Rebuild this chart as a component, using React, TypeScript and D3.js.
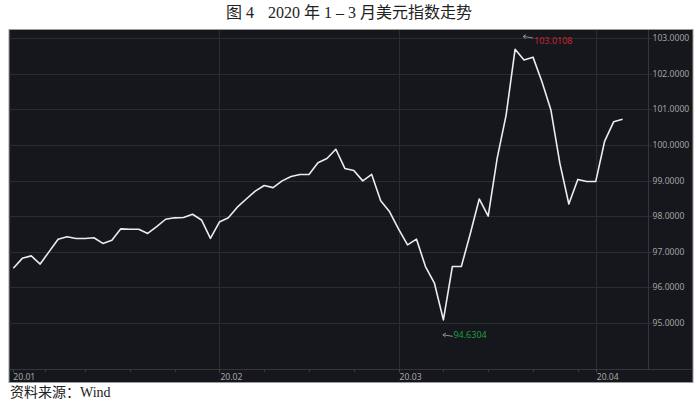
import React from "react";
import * as d3 from "d3";

// US Dollar Index, daily, Jan–early Apr 2020 (trading-day index)
const valuesJan = [96.53, 96.81, 96.88, 96.65, 97.0, 97.35, 97.42, 97.37, 97.37, 97.39, 97.23, 97.32, 97.64, 97.63, 97.63, 97.51, 97.7, 97.91, 97.95, 97.96, 98.05, 97.89, 97.37];
const valuesFeb = [97.83, 97.95, 98.25, 98.48, 98.7, 98.86, 98.8, 98.99, 99.11, 99.17, 99.17, 99.5, 99.62, 99.88, 99.34, 99.28, 98.99, 99.17, 98.43, 98.12];
const valuesMar = [97.63, 97.19, 97.35, 96.58, 96.11, 95.08, 96.58, 96.58, 97.5, 98.48, 98.0, 99.62, 100.84, 102.69, 102.39, 102.47, 101.78, 100.98, 99.48, 98.34, 99.03, 98.97];
const valuesApr = [98.97, 100.11, 100.65, 100.72];

const monthTickIndex = [0, 23, 43, 65];
const monthTickLabels = ["20.01", "20.02", "20.03", "20.04"];
const minorTickIndex = [3.5, 8, 13, 18, 28, 33, 38, 48, 53, 58, 63];
const yTicks = [95, 96, 97, 98, 99, 100, 101, 102, 103];

const maxLabel = "103.0108";
const maxValue = 103.0108;
const minLabel = "94.6304";
const minValue = 94.6304;

const titleLead = "图 4";
const titleMain = "2020 年 1 – 3 月美元指数走势";
const source = "资料来源：Wind";

const series = [...valuesJan, ...valuesFeb, ...valuesMar, ...valuesApr];

export default function App() {
  const W = 700;
  const H = 403;
  const panel = { x: 9, y: 29.5, w: 684, h: 353 };
  const axisX = 648.5; // right value axis
  const bandTop = 369.5; // top of the time axis band

  const x = d3.scaleLinear().domain([0, series.length - 1]).range([13.3, 622.6]);
  const y = d3.scaleLinear().domain([95, 103]).range([322.7, 38.3]);

  const line = d3
    .line<number>()
    .x((_, i) => x(i))
    .y((d) => y(d));

  const maxIdx = d3.maxIndex(series);
  const minIdx = d3.minIndex(series);

  const axisFont = "'Noto Sans', 'Open Sans', sans-serif";
  const serifFont = "'Liberation Serif', 'Noto Sans CJK SC', serif";

  const arrow = (x0: number, y0: number, color: string) => (
    <g stroke={color} strokeWidth={0.9} fill="none">
      <line x1={x0} y1={y0} x2={x0 + 10} y2={y0 + 1.5} />
      <line x1={x0} y1={y0} x2={x0 + 3} y2={y0 - 1.8} />
      <line x1={x0} y1={y0} x2={x0 + 2.6} y2={y0 + 2.2} />
    </g>
  );

  const maxY = y(maxValue);
  const minY = y(minValue);

  return (
    <svg
      width={W}
      height={H}
      style={{ position: "absolute", left: 0, top: 0, background: "#fff" }}
    >
      <rect x={0} y={0} width={W} height={H} fill="#fff" />
      <text
        x={349}
        y={18}
        textAnchor="middle"
        fontFamily={serifFont}
        fontSize={16}
        fill="#222"
      >
        <tspan>{titleLead}</tspan>
        <tspan dx={14}>{titleMain}</tspan>
      </text>

      {/* dark panel */}
      <rect
        x={panel.x}
        y={panel.y}
        width={panel.w}
        height={panel.h}
        fill="#15171c"
        stroke="#9a9a9a"
        strokeWidth={1}
      />

      {/* horizontal grid + right axis labels */}
      {yTicks.map((t) => (
        <g key={t}>
          <line
            x1={panel.x + 0.5}
            x2={axisX + 4}
            y1={Math.round(y(t)) + 0.5}
            y2={Math.round(y(t)) + 0.5}
            stroke="#2b2d32"
            strokeWidth={1}
          />
          <text
            x={axisX + 4}
            y={y(t) + 3}
            fontFamily={axisFont}
            fontSize={8.6}
            fill="#a3a3a3"
          >
            {d3.format(".4f")(t)}
          </text>
        </g>
      ))}

      {/* vertical month grid */}
      {monthTickIndex.slice(1).map((i) => (
        <line
          key={i}
          x1={Math.round(x(i)) + 0.5}
          x2={Math.round(x(i)) + 0.5}
          y1={panel.y + 0.5}
          y2={bandTop}
          stroke="#2b2d32"
          strokeWidth={1}
        />
      ))}

      {/* right axis line */}
      <line x1={axisX} x2={axisX} y1={panel.y + 0.5} y2={bandTop} stroke="#34363b" strokeWidth={1} />

      {/* time axis band */}
      <line x1={panel.x + 0.5} x2={panel.x + panel.w - 0.5} y1={bandTop} y2={bandTop} stroke="#34363b" strokeWidth={1} />
      {monthTickIndex.map((i) => (
        <line key={"mt" + i} x1={Math.round(x(i)) + 0.5} x2={Math.round(x(i)) + 0.5} y1={bandTop} y2={bandTop + 3} stroke="#44464b" />
      ))}
      {minorTickIndex.map((i) => (
        <line key={"mn" + i} x1={Math.round(x(i)) + 0.5} x2={Math.round(x(i)) + 0.5} y1={bandTop} y2={bandTop + 2.5} stroke="#3b3d42" />
      ))}
      {monthTickIndex.map((i, k) => (
        <text
          key={"ml" + i}
          x={x(i) + (k === 0 ? 0 : 1)}
          y={380}
          fontFamily={axisFont}
          fontSize={8.6}
          fill="#a8a8a8"
        >
          {monthTickLabels[k]}
        </text>
      ))}

      {/* series line */}
      <path d={line(series) || ""} fill="none" stroke="#ececec" strokeWidth={1.6} strokeLinejoin="round" />

      {/* max annotation */}
      {arrow(x(maxIdx) + 8, maxY - 1.5, "#9a9a9a")}
      <text x={x(maxIdx) + 19} y={maxY + 6} fontFamily={axisFont} fontSize={9} fill="#c8262b">
        {maxLabel}
      </text>

      {/* min annotation */}
      {arrow(x(minIdx) - 0.5, minY - 1, "#9a9a9a")}
      <text x={x(minIdx) + 10} y={minY + 2.5} fontFamily={axisFont} fontSize={9} fill="#1c9e3c">
        {minLabel}
      </text>

      <text x={10} y={397} fontFamily={serifFont} fontSize={14} fill="#222">
        {source}
      </text>
    </svg>
  );
}
